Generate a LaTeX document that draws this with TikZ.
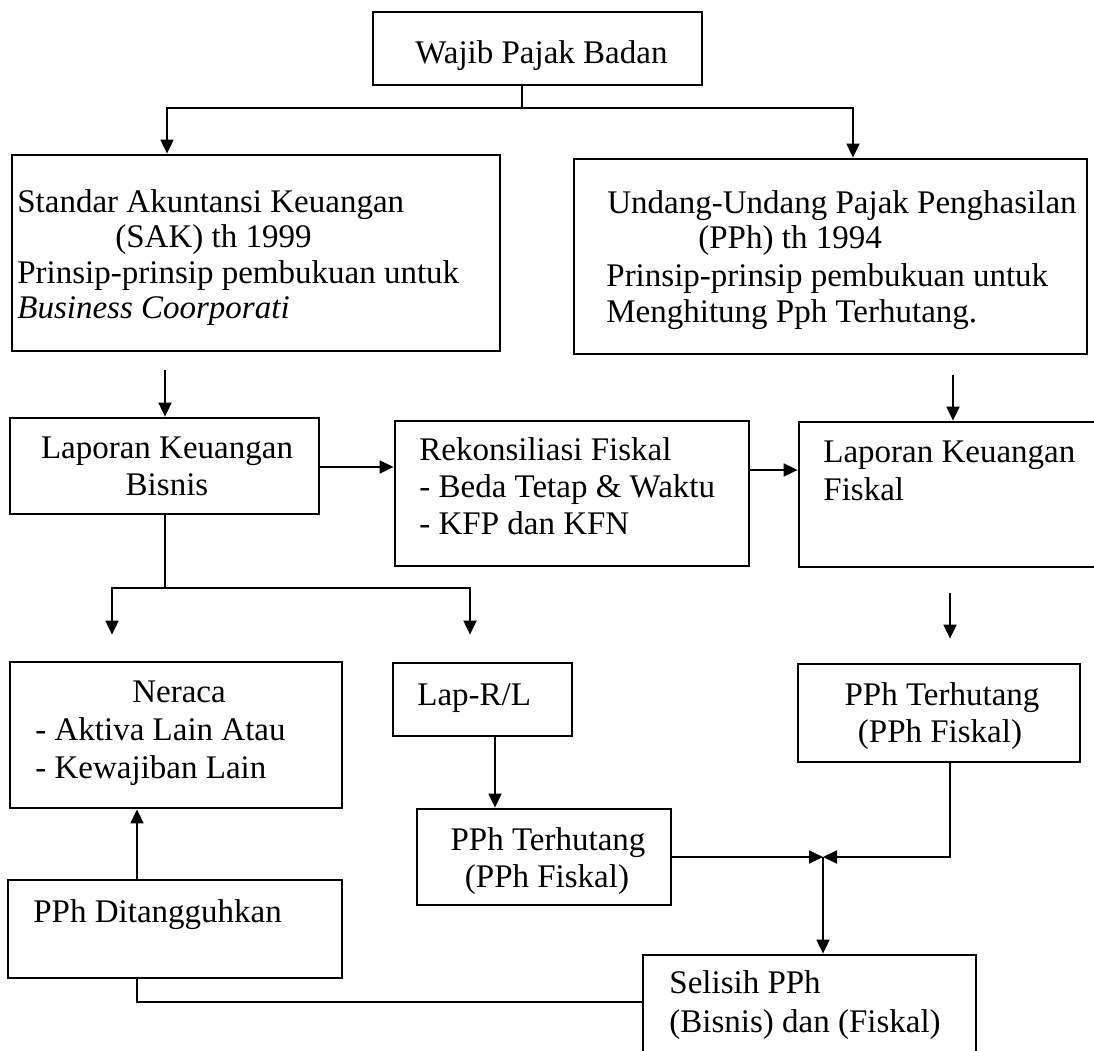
\documentclass[tikz,border=0pt]{standalone}
\usepackage{fontspec}
\setmainfont{Liberation Serif}
\usetikzlibrary{arrows.meta,fit,calc}
\begin{document}
\begin{tikzpicture}[x=0.5pt,y=-0.5pt,
  box/.style={draw, line width=1.4pt, inner sep=0pt, rectangle},
  conn/.style={line width=0.9pt},
  arr/.style={conn, -{Triangle[length=7pt,width=6.5pt]}},
  txt/.style={inner sep=0pt, anchor=base west, font=\fontsize{16.5}{18}\selectfont},
  ctxt/.style={txt, anchor=base}]
\useasboundingbox (0,0) rectangle (1094,1051);
\clip (0,0) rectangle (1094,1051);
\fill[white] (0,0) rectangle (1094,1051);

% boxes
\node[box, fit={(373,12) (702,85)}] (wajib) {};
\node[box, fit={(12,155) (500,351)}] (sak) {};
\node[box, fit={(574,159) (1087,354)}] (uu) {};
\node[box, fit={(10,418) (319,514)}] (lkb) {};
\node[box, fit={(395,421) (749,566)}] (rek) {};
\node[box, fit={(799,422) (1100,567)}] (lkf) {};
\node[box, fit={(10,662) (342,808)}] (ner) {};
\node[box, fit={(393,663) (572,736)}] (lrl) {};
\node[box, fit={(798,664) (1080,762)}] (pphr) {};
\node[box, fit={(417,809) (671,905)}] (pphm) {};
\node[box, fit={(8,880) (342,978)}] (dit) {};
\node[box, fit={(643,955) (976,1080)}] (sel) {};

% texts
\node[txt] (t0) at (415,63) {Wajib Pajak Badan};
\node[txt] (t1) at (17,212) {Standar Akuntansi Keuangan};
\node[txt] (t2) at (115,247) {(SAK) th 1999};
\node[txt] (t3) at (17,283) {Prinsip-prinsip pembukuan untuk};
\node[txt] (t4) at (17,318) {\itshape Business Coorporati};
\node[txt] (u1) at (607,213) {Undang-Undang Pajak Penghasilan};
\node[txt] (u2) at (698,248) {(PPh) th 1994};
\node[txt] (u3) at (606,286) {Prinsip-prinsip pembukuan untuk};
\node[txt] (u4) at (606,322) {Menghitung Pph Terhutang.};
\node[ctxt] (l1) at (167,458) {Laporan Keuangan};
\node[ctxt] (l2) at (167,495) {Bisnis};
\node[txt] (r1) at (419,460) {Rekonsiliasi Fiskal};
\node[txt] (r2) at (419,497) {- Beda Tetap \& Waktu};
\node[txt] (r3) at (419,534) {- KFP dan KFN};
\node[txt] (f1) at (823,462) {Laporan Keuangan};
\node[txt] (f2) at (823,500) {Fiskal};
\node[ctxt] (n1) at (179,702) {Neraca};
\node[txt] (n2) at (35,740) {- Aktiva Lain Atau};
\node[txt] (n3) at (35,778) {- Kewajiban Lain};
\node[txt] (p1) at (417,705) {Lap-R/L};
\node[ctxt] (m1) at (548,850) {PPh Terhutang};
\node[ctxt] (m2) at (547,887) {(PPh Fiskal)};
\node[ctxt] (h1) at (942,705) {PPh Terhutang};
\node[ctxt] (h2) at (940,742) {(PPh Fiskal)};
\node[txt] (s1) at (669,993) {Selisih PPh};
\node[txt] (s2) at (669,1032) {(Bisnis) dan (Fiskal)};
\node[txt] (d1) at (33,922) {PPh Ditangguhkan};

% connectors
\coordinate (jt) at (522,108);
\coordinate (ja) at (167,108);
\coordinate (jb) at (853,108);
\draw[conn] (wajib.south -| jt) -- (jt);
\draw[arr] (jt) -- (ja) -- (ja |- sak.north);
\draw[arr] (jt) -- (jb) -- (jb |- uu.north);

\coordinate (xl) at (165,0);
\coordinate (xr) at (953,0);
\draw[arr, shorten <=9pt] (sak.south -| xl) -- (lkb.north -| xl);
\draw[arr, shorten <=10pt] (uu.south -| xr) -- (lkf.north -| xr);

\coordinate (y1) at (0,467);
\coordinate (y2) at (0,470);
\draw[arr] (lkb.east |- y1) -- (rek.west |- y1);
\draw[arr] (rek.east |- y2) -- (lkf.west |- y2);

\coordinate (b1) at (165,588);
\coordinate (b2) at (112,588);
\coordinate (b3) at (470,588);
\draw[conn] (lkb.south -| b1) -- (b1);
\draw[arr, shorten >=13pt] (b1) -- (b2) -- (b2 |- ner.north);
\draw[arr, shorten >=13.5pt] (b1) -- (b3) -- (b3 |- lrl.north);

\coordinate (xf) at (950,0);
\draw[arr, shorten <=12.5pt, shorten >=12pt] (lkf.south -| xf) -- (pphr.north -| xf);

\coordinate (xm) at (495,0);
\draw[arr] (lrl.south -| xm) -- (pphm.north -| xm);

\coordinate (jn) at (823,857);
\draw[arr] (pphm.east |- jn) -- (jn);
\draw[arr] (pphr.south -| xf) -- (xf |- jn) -- (jn);
\draw[arr] (jn) -- (jn |- sel.north);

\coordinate (xd) at (137,0);
\coordinate (yd) at (0,1002);
\draw[arr] (dit.north -| xd) -- (ner.south -| xd);
\draw[conn] (dit.south -| xd) -- (xd |- yd) -- (sel.west |- yd);
\end{tikzpicture}
\end{document}
